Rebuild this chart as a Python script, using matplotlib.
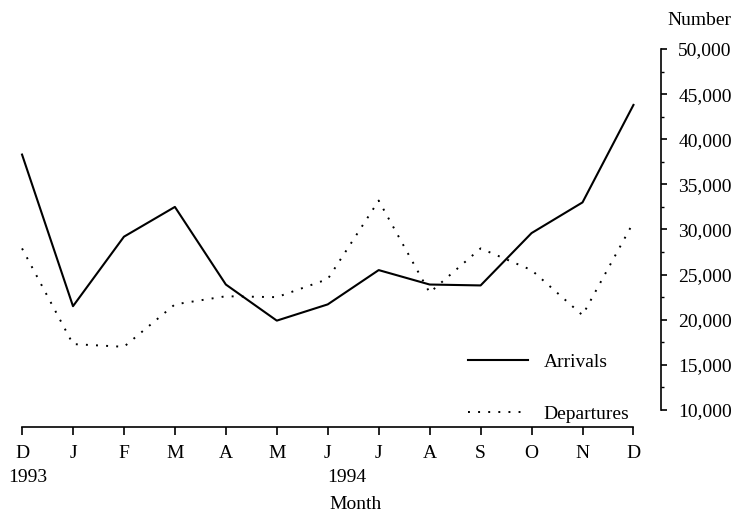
"""Monthly arrivals and departures, Dec 1993 - Dec 1994."""

import matplotlib
matplotlib.use("Agg")
import matplotlib.pyplot as plt
from matplotlib.ticker import MultipleLocator, FuncFormatter
import matplotlib.transforms as mtransforms

months = ["D", "J", "F", "M", "A", "M", "J", "J", "A", "S", "O", "N", "D"]
arrivals = [38300, 21500, 29200, 32500, 23900, 19900, 21700, 25500, 23900, 23800, 29600, 33000, 43800]
departures = [27900, 17300, 17000, 21700, 22600, 22500, 24500, 33200, 23000, 27900, 25500, 20500, 30800]
years = [(0.12, "1993"), (6.38, "1994")]

plt.rcParams["font.family"] = ["Liberation Serif", "DejaVu Serif"]
FS = 14

fig = plt.figure(figsize=(7.44, 5.21), dpi=100)
ax = fig.add_axes([0.0262, 0.2131, 0.8622, 0.6929])

x = list(range(len(months)))
ax.plot(x, arrivals, color="black", lw=1.5, label="Arrivals")
ax.plot(x, departures, color="black", lw=1.4, linestyle=(0, (1, 4.2)), label="Departures")

ax.set_xlim(-0.05, 12.54)
ax.set_ylim(10000, 50000)

# spines: y axis on the right, x axis dropped below the plot
for side in ["top", "left"]:
    ax.spines[side].set_visible(False)
ax.spines["bottom"].set_position(("outward", 12.5))
ax.spines["bottom"].set_bounds(0, 12)
ax.spines["right"].set_bounds(10000, 50000)
for side in ["bottom", "right"]:
    ax.spines[side].set_linewidth(1.2)

ax.set_xticks(x)
ax.set_xticklabels(months, fontsize=FS)
ax.tick_params(axis="x", direction="out", length=6, width=1.2, pad=7)

ax.yaxis.tick_right()
ax.yaxis.set_major_locator(MultipleLocator(5000))
ax.yaxis.set_minor_locator(MultipleLocator(2500))
ax.yaxis.set_major_formatter(FuncFormatter(lambda v, p: f"{int(v):,}"))
ax.tick_params(axis="y", which="major", direction="out", length=4.5, width=1.2, pad=8, labelsize=FS)
ax.tick_params(axis="y", which="minor", direction="out", length=2.5, width=1.0)

ax.text(1.06, 1.08, "Number", transform=ax.transAxes, ha="center", va="center", fontsize=FS)

trans = mtransforms.blended_transform_factory(ax.transData, ax.transAxes)
for xpos, label in years:
    ax.text(xpos, -0.187, label, transform=trans, ha="center", va="center", fontsize=FS)
ax.text(6.55, -0.262, "Month", transform=trans, ha="center", va="center", fontsize=FS)

ax.legend(loc="lower left", bbox_to_anchor=(0.699, -0.035), frameon=False, fontsize=FS,
          handlelength=3.1, handletextpad=0.8, labelspacing=1.75,
          borderpad=0, borderaxespad=0)

fig.savefig("out.png", dpi=100)
